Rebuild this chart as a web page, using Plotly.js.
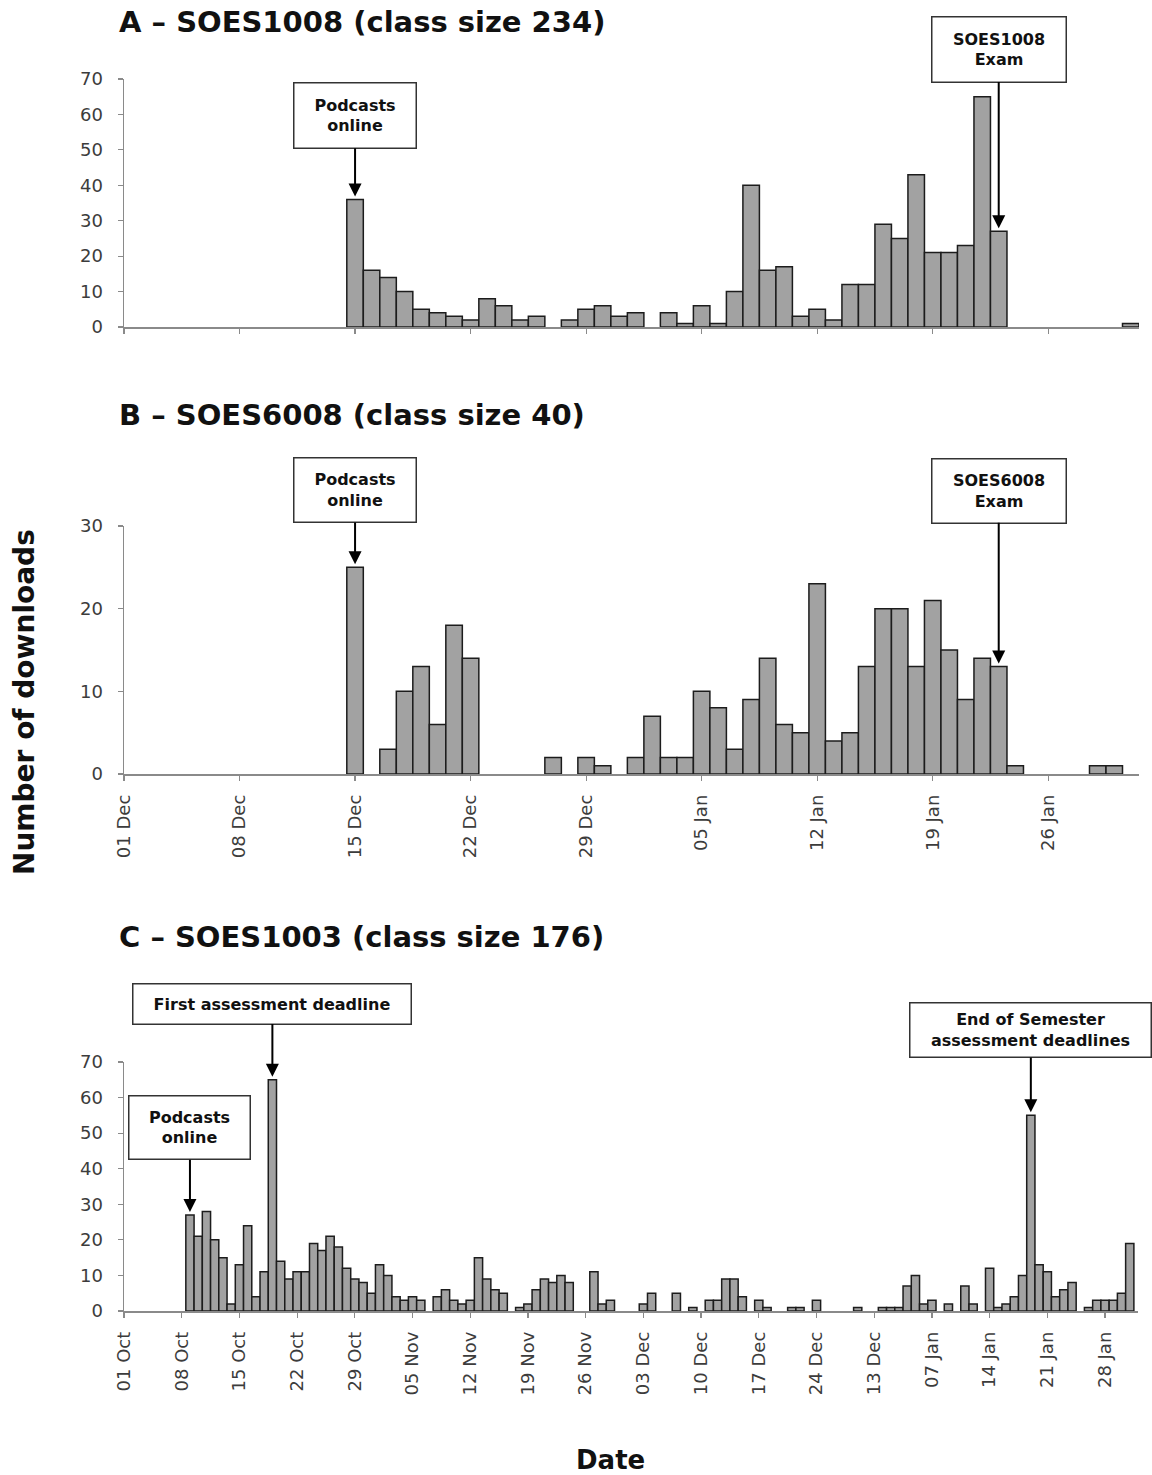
<!DOCTYPE html>
<html>
<head>
<meta charset="utf-8">
<script src="https://cdn.plot.ly/plotly-3.0.1.min.js"></script>
<style>html,body{margin:0;padding:0;background:#fff;}#chart{width:1152px;height:1475px;}</style>
</head>
<body>
<div id="chart"></div>
<script>
// ---------------- DATA ----------------
// Panel A – SOES1008: daily downloads starting 15 Dec
const aStart = '2006-12-15';
const aValues = [36,16,14,10,5,4,3,2,8,6,2,3,0,2,5,6,3,
                 4,0,4,1,6,1,10,40,16,17,3,5,2,12,12,29,25,43,21,21,23,65,27,
                 0,0,0,0,0,0,0,1];
// Panel B – SOES6008: daily downloads starting 15 Dec
const bStart = '2006-12-15';
const bValues = [25,0,3,10,13,6,18,14,0,0,0,0,2,0,2,1,0,
                 2,7,2,2,10,8,3,9,14,6,5,23,4,5,13,20,20,13,21,15,9,14,13,1,
                 0,0,0,0,1,1];
// Panel C – SOES1003: daily downloads starting 09 Oct
const cStart = '2006-10-09';
const cValues = [27,21,28,20,15,2,13,24,4,11,65,14,9,11,11,19,17,21,18,12,9,8,5,
                 13,10,4,3,4,3,0,4,6,3,2,3,15,9,6,5,0,1,2,6,9,8,10,8,0,0,11,2,3,0,
                 0,0,2,5,0,0,5,0,1,0,3,3,9,9,4,0,3,1,0,0,1,1,0,3,0,0,0,0,1,0,0,
                 1,1,1,7,10,2,3,0,2,0,7,2,0,12,1,2,4,10,55,13,11,4,6,8,0,1,3,3,3,5,19];

const abTickDates = ['2006-12-01','2006-12-08','2006-12-15','2006-12-22','2006-12-29',
                     '2007-01-05','2007-01-12','2007-01-19','2007-01-26'];
const abTickLabels = ['01 Dec','08 Dec','15 Dec','22 Dec','29 Dec','05 Jan','12 Jan','19 Jan','26 Jan'];
const cTickDates = ['2006-10-01','2006-10-08','2006-10-15','2006-10-22','2006-10-29',
                    '2006-11-05','2006-11-12','2006-11-19','2006-11-26','2006-12-03',
                    '2006-12-10','2006-12-17','2006-12-24','2006-12-31','2007-01-07',
                    '2007-01-14','2007-01-21','2007-01-28'];
const cTickLabels = ['01 Oct','08 Oct','15 Oct','22 Oct','29 Oct','05 Nov','12 Nov','19 Nov',
                     '26 Nov','03 Dec','10 Dec','17 Dec','24 Dec','13 Dec','07 Jan','14 Jan',
                     '21 Jan','28 Jan'];

const titles = ['A \u2013 SOES1008 (class size 234)', 'B \u2013 SOES6008 (class size 40)', 'C \u2013 SOES1003 (class size 176)'];

// ---------------- HELPERS ----------------
function dayList(start, n) {
  const t0 = Date.parse(start + 'T00:00:00Z');
  const out = [];
  for (let i = 0; i < n; i++) out.push(new Date(t0 + i * 864e5).toISOString().slice(0, 10));
  return out;
}
const aDates = dayList(aStart, aValues.length);
const bDates = dayList(bStart, bValues.length);
const cDates = dayList(cStart, cValues.length);
function valueAt(dates, vals, d) { return vals[dates.indexOf(d)]; }

function barTrace(dates, vals, xa, ya) {
  const x = [], y = [];
  dates.forEach((d, i) => { if (vals[i] > 0) { x.push(d); y.push(vals[i]); } });
  return {
    type: 'bar', x: x, y: y, xaxis: xa, yaxis: ya, width: 864e5,
    marker: {color: '#a2a2a2', line: {color: '#1c1c1c', width: 1.5}},
    hoverinfo: 'x+y', showlegend: false
  };
}

const W = 1152, H = 1475;
const px = v => v / W;
const py = v => 1 - v / H;

const axisCommon = {
  showgrid: false, zeroline: false, showline: true, linecolor: '#8a8a8a', linewidth: 1.5,
  ticks: 'outside', ticklen: 5, tickwidth: 1.2, tickcolor: '#8a8a8a',
  tickfont: {family: 'DejaVu Sans', size: 18, color: '#3c3c3c'}, fixedrange: true
};

function xAxis(domainR, range, tv, tt, showLabels, anchor) {
  return Object.assign({}, axisCommon, {
    type: 'date', domain: [px(124), px(domainR)], range: range, anchor: anchor,
    tickmode: 'array', tickvals: tv, ticktext: tt, showticklabels: showLabels,
    tickangle: -90, ticklabelstandoff: 7
  });
}
function yAxis(bottom, top, max, anchor) {
  return Object.assign({}, axisCommon, {
    domain: [py(bottom), py(top)], range: [0, max], dtick: 10, tick0: 0, anchor: anchor,
    ticklabelstandoff: 11
  });
}

const boxFont = {family: 'DejaVu Sans', size: 16, color: '#111'};
function callout(text, xa, ya, x, y, ay, w, h) {
  return {
    text: '<b>' + text + '</b>', xref: xa, yref: ya, x: x, y: y, ax: 0, ay: ay,
    axref: 'pixel', ayref: 'pixel', showarrow: true, arrowhead: 2, arrowsize: 1.3,
    arrowwidth: 2, arrowcolor: '#000', standoff: 3, bordercolor: '#333', borderwidth: 1.5,
    borderpad: 4, bgcolor: '#fff', width: w, height: h, font: boxFont, align: 'center'
  };
}
function titleAnn(text, yPix) {
  return {text: '<b>' + text + '</b>', xref: 'paper', yref: 'paper', x: px(117), y: py(yPix),
          xanchor: 'left', yanchor: 'middle', showarrow: false,
          font: {family: 'DejaVu Sans', size: 29, color: '#111'}};
}

const data = [
  barTrace(aDates, aValues, 'x', 'y'),
  barTrace(bDates, bValues, 'x2', 'y2'),
  barTrace(cDates, cValues, 'x3', 'y3')
];

const abRange = ['2006-12-01', '2007-01-31 12:00'];
const cRange = ['2006-10-01', '2007-02-01'];

const layout = {
  width: W, height: H, margin: {l: 0, r: 0, t: 0, b: 0},
  paper_bgcolor: '#fff', plot_bgcolor: '#fff', bargap: 0, showlegend: false,
  xaxis: xAxis(1139, abRange, abTickDates, abTickLabels, false, 'y'),
  yaxis: yAxis(327, 79, 70, 'x'),
  xaxis2: xAxis(1139, abRange, abTickDates, abTickLabels, true, 'y2'),
  yaxis2: yAxis(774, 526, 30, 'x2'),
  xaxis3: xAxis(1138, cRange, cTickDates, cTickLabels, true, 'y3'),
  yaxis3: yAxis(1311, 1062, 70, 'x3'),
  annotations: [
    titleAnn(titles[0], 22), titleAnn(titles[1], 415), titleAnn(titles[2], 937),
    callout('Podcasts<br>online', 'x', 'y', '2006-12-15', valueAt(aDates, aValues, '2006-12-15'), -84, 113, 56),
    callout('SOES1008<br>Exam', 'x', 'y', '2007-01-23', valueAt(aDates, aValues, '2007-01-23'), -182, 125, 56),
    callout('Podcasts<br>online', 'x2', 'y2', '2006-12-15', valueAt(bDates, bValues, '2006-12-15'), -77, 113, 55),
    callout('SOES6008<br>Exam', 'x2', 'y2', '2007-01-23', valueAt(bDates, bValues, '2007-01-23'), -176, 125, 55),
    callout('First assessment deadline', 'x3', 'y3', '2006-10-19', valueAt(cDates, cValues, '2006-10-19'), -76, 269, 31),
    callout('Podcasts<br>online', 'x3', 'y3', '2006-10-09', valueAt(cDates, cValues, '2006-10-09'), -87, 112, 54),
    callout('End of Semester<br>assessment deadlines', 'x3', 'y3', '2007-01-19', valueAt(cDates, cValues, '2007-01-19'), -85, 232, 45),
    {text: '<b>Number of downloads</b>', xref: 'paper', yref: 'paper', x: px(24), y: py(702),
     textangle: -90, showarrow: false, xanchor: 'center', yanchor: 'middle',
     font: {family: 'DejaVu Sans', size: 28, color: '#111'}},
    {text: '<b>Date</b>', xref: 'paper', yref: 'paper', x: px(610), y: py(1460),
     showarrow: false, xanchor: 'center', yanchor: 'middle',
     font: {family: 'DejaVu Sans', size: 26, color: '#111'}}
  ]
};

Plotly.newPlot('chart', data, layout, {displayModeBar: false, staticPlot: true});
</script>
</body>
</html>
